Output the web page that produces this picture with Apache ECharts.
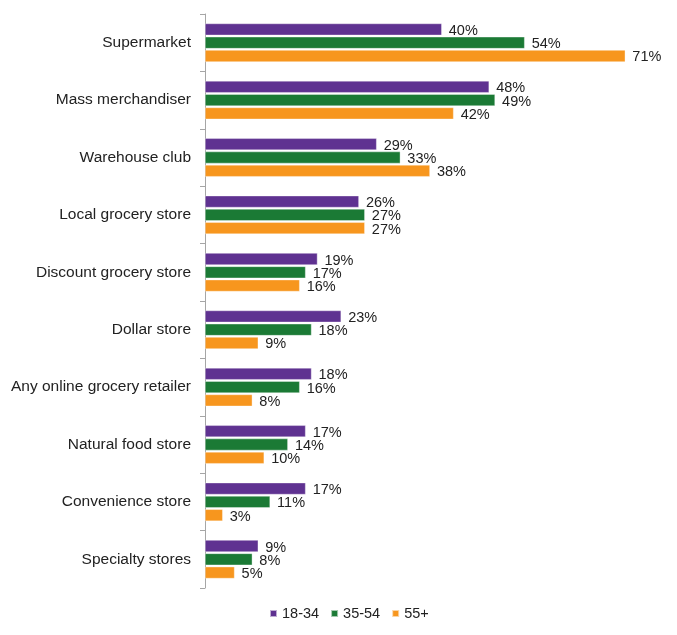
<!DOCTYPE html>
<html>
<head>
<meta charset="utf-8">
<script src="https://cdn.jsdelivr.net/npm/echarts@6/dist/echarts.min.js"></script>
<style>html,body{margin:0;padding:0;background:#fff}#c{width:677px;height:635px}</style>
</head>
<body>
<div id="c"></div>
<script>
const categories = ["Supermarket","Mass merchandiser","Warehouse club","Local grocery store","Discount grocery store","Dollar store","Any online grocery retailer","Natural food store","Convenience store","Specialty stores"];
const seriesNames = ["18-34","35-54","55+"];
const age18_34 = [40,48,29,26,19,23,18,17,17,9];
const age35_54 = [54,49,33,27,17,18,16,14,11,8];
const age55plus = [71,42,38,27,16,9,8,10,3,5];
const colors = ["#5f3291","#1b7a35","#f7961e"];

const chart = echarts.init(document.getElementById('c'));
const font = 'Liberation Sans, Arial, sans-serif';
function mk(name, data, color){
  return {
    name, type:'bar', data,
    barGap:'12%', barCategoryGap:'33%',
    itemStyle:{color, borderColor:'rgba(255,255,255,0.6)', borderWidth:0.6},
    label:{show:true, position:'right', distance:7, formatter:'{c}%', color:'#222', fontSize:14.5, fontFamily:font, offset:[0,1.5]}
  };
}
chart.setOption({
  animation:false,
  textStyle:{fontFamily:font},
  grid:{left:205, right:28, top:14, bottom:47, containLabel:false},
  xAxis:{type:'value', min:0, max:75, show:false},
  yAxis:{type:'category', data:categories, inverse:true,
    axisLine:{show:true, lineStyle:{color:'#a6a6a6', width:1}},
    axisTick:{show:true, length:5, lineStyle:{color:'#a6a6a6'}},
    axisLabel:{color:'#222', fontSize:15.5, fontFamily:font, margin:14}},
  legend:{bottom:9, left:264, icon:'rect', itemWidth:7, itemHeight:7, itemGap:11, itemTextGap:5,
    textStyle:{color:'#222', fontSize:14.5, fontFamily:font}, data:seriesNames},
  series:[mk(seriesNames[0], age18_34, colors[0]), mk(seriesNames[1], age35_54, colors[1]), mk(seriesNames[2], age55plus, colors[2])]
});
</script>
</body>
</html>
